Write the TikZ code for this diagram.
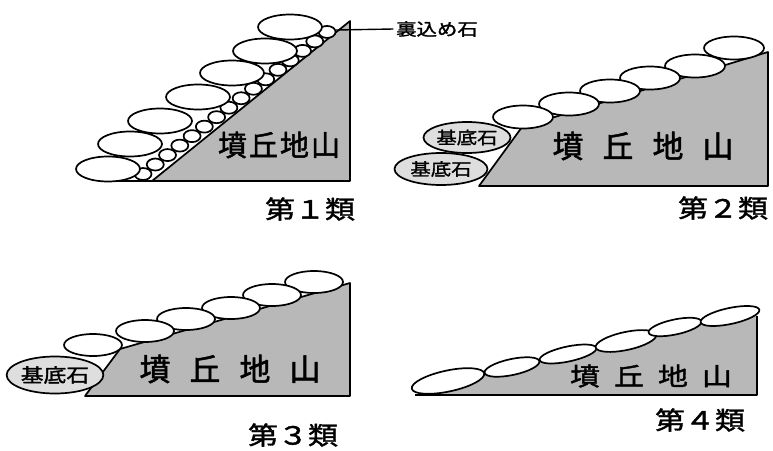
\documentclass[tikz,border=0pt]{standalone}
\usepackage{fontspec}
\usepackage{tikz}
\usetikzlibrary{shapes.geometric}
\newfontfamily\jpfont{Noto Sans CJK JP}[FakeBold=1.6]
\newfontfamily\jpwide{Noto Sans CJK JP}[FakeStretch=1.2,FakeBold=1.6]
\usepackage{xcolor}
\definecolor{jizan}{gray}{0.72}
\definecolor{kisogray}{gray}{0.87}
\newcommand{\fsp}{\hspace{19pt}}
\newcommand{\gsp}{\hspace{14pt}}

\begin{document}
\begin{tikzpicture}[x=1pt,y=-1pt,line width=1.7pt,line join=round,
  ishi/.style={draw,fill=white},
  kiso/.style={ellipse,draw,fill=kisogray,inner sep=0pt,font=\jpwide\fontsize{17}{17}\selectfont},
  rui/.style={font=\jpwide\fontsize{25}{25}\selectfont},
  chiyama/.style={font=\jpfont\fontsize{31}{31}\selectfont}]
\useasboundingbox (0,0) rectangle (773,450);

%====================================================
% 第1類
%====================================================
\fill[jizan] (152,181) -- (350,21) -- (350,181) -- cycle;
\draw (107,181) -- (350,181) -- (350,21) -- (152,181);
\foreach \i in {0,...,15}
  \filldraw[ishi] ({143+12.27*\i},{174-9.47*\i}) ellipse [x radius=8.5pt, y radius=6pt];
\foreach \x/\y in {290/27,265/51,232/73,198/97,160/121,130/144,108/169}
  \filldraw[ishi] (\x,\y) ellipse [x radius=32pt, y radius=12.5pt];
\coordinate (urakomi) at (336,30);
\node[font=\jpwide\fontsize{17}{17}\selectfont,inner sep=2pt] (urakomilbl) at (437,29) {裏込め石};
\draw[line width=1.4pt] (urakomi) -- (urakomilbl.west);
\node[font=\jpfont\fontsize{29}{29}\selectfont] (chiyama1) at (279,145) {墳\hspace{2pt}丘\hspace{2pt}地\hspace{2pt}山};
\node[rui] (rui1) at (310,209) {第１類};

%====================================================
% 第2類
%====================================================
\fill[jizan] (479,186) -- (522,127) -- (768,52) -- (768,186) -- cycle;
\draw (479,186) -- (768,186) -- (768,52) -- (522,127) -- cycle;
\foreach \x/\y in {734/48,695/66,650/78,610/91,569/104,523/117}
  \filldraw[ishi] (\x,\y) ellipse [x radius=30pt, y radius=11.5pt];
\node[kiso,minimum width=87pt,minimum height=31pt] (kiso2a) at (467,137.5) {基底石};
\node[kiso,minimum width=93pt,minimum height=32pt] (kiso2b) at (441,169) {基底石};
\node[chiyama] (chiyama2) at (643,146) {墳\fsp 丘\fsp 地\fsp 山};
\node[rui] (rui2) at (723,208) {第２類};

%====================================================
% 第3類
%====================================================
\fill[jizan] (85,396) -- (120,349) -- (350,283) -- (350,396) -- cycle;
\draw (85,396) -- (350,396) -- (350,283) -- (120,349) -- cycle;
\foreach \x/\y in {314/282,272/295,231/308,186/319,145/331,93/345}
  \filldraw[ishi] (\x,\y) ellipse [x radius=29pt, y radius=11pt];
\node[kiso,minimum width=85pt,minimum height=37pt,font=\jpwide\fontsize{19}{19}\selectfont] (kiso3) at (55,375) {基底石};
\node[chiyama] (chiyama3) at (230,369) {墳\fsp 丘\fsp 地\fsp 山};
\node[rui] (rui3) at (293,435) {第３類};

%====================================================
% 第4類
%====================================================
\fill[jizan] (428,395) -- (448,381) -- (512,367) -- (568,354) -- (626,341)
  -- (675,327) -- (730,316) -- (757,316) -- (757,395) -- cycle;
\draw (415,395) -- (757,395) -- (757,316);
\foreach \x/\y/\a/\b in {448/381/37pt/10.5pt,512/367/28pt/8pt,568/354/29pt/7.5pt,
    626/341/31pt/9pt,675/327/27pt/7.5pt,730/316/30pt/8pt}
  \filldraw[ishi,rotate around={12:(\x,\y)}] (\x,\y) ellipse [x radius=\a, y radius=\b];
\node[font=\jpwide\fontsize{25}{25}\selectfont] (chiyama4) at (651,376) {墳\gsp 丘\gsp 地\gsp 山};
\node[rui] (rui4) at (700,420) {第４類};
\end{tikzpicture}
\end{document}
